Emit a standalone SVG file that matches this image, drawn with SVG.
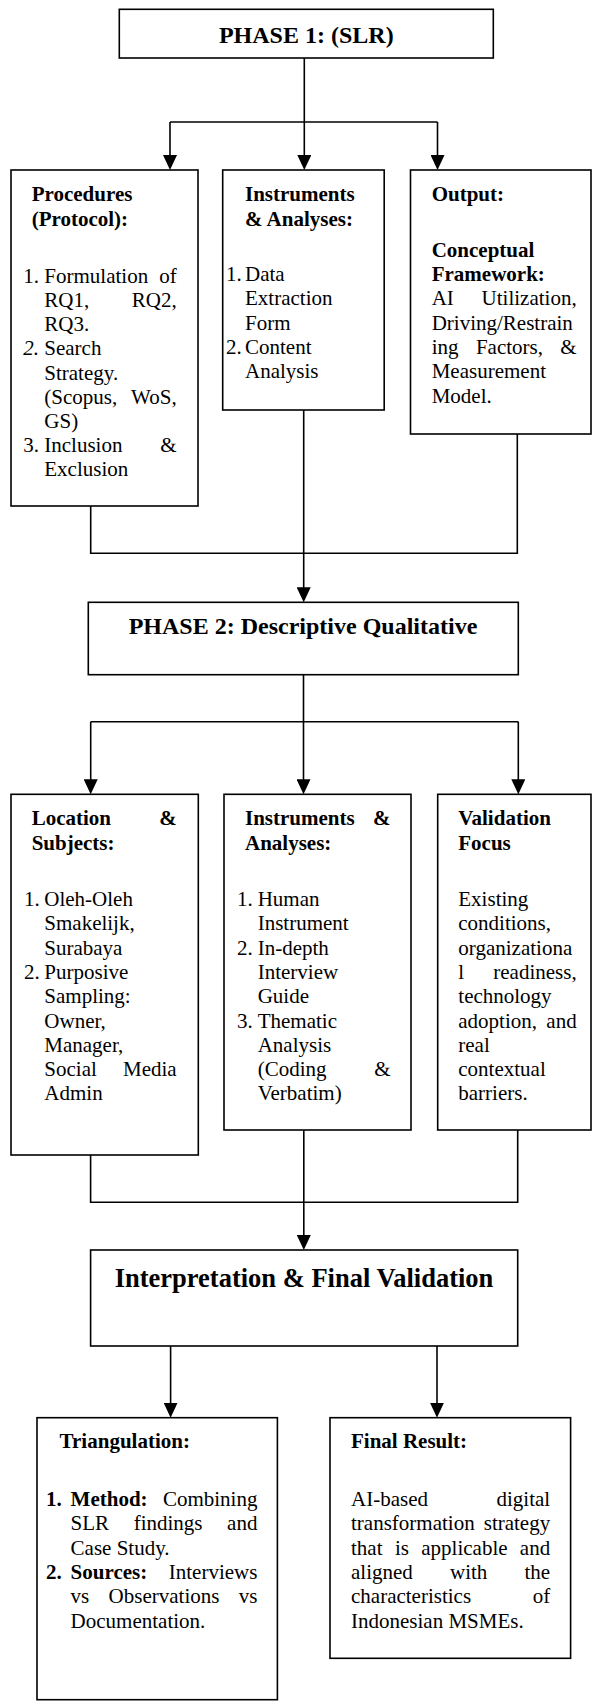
<svg xmlns="http://www.w3.org/2000/svg" width="592" height="1702" viewBox="0 0 592 1702">
<style>
.t{font-family:"Liberation Serif","Times New Roman",serif;font-size:21px;fill:#000}
.b{font-weight:bold}
.i{font-style:italic}
.e{text-anchor:end}
.m{text-anchor:middle}
.h1{font-size:24px}
.h2{font-size:26.5px}
.box{fill:#fff;stroke:#000;stroke-width:1.6}
.ln{fill:none;stroke:#000;stroke-width:1.6}
</style>
<defs>
<marker id="ah" markerUnits="userSpaceOnUse" markerWidth="15" markerHeight="14" viewBox="0 0 15 14" refX="7" refY="7" orient="auto"><path d="M0,0 L15,7 L0,14 z" fill="#000"/></marker>
</defs>
<rect width="592" height="1702" fill="#fff"/>

<g id="connectors">
<path class="ln" d="M304.3,58 V162" marker-end="url(#ah)"/>
<path class="ln" d="M170,122 H437.5"/>
<path class="ln" d="M170,122 V162" marker-end="url(#ah)"/>
<path class="ln" d="M437.5,122 V162" marker-end="url(#ah)"/>
<path class="ln" d="M90.7,506 V553.3 H517.3 V434"/>
<path class="ln" d="M303.7,410 V594.3" marker-end="url(#ah)"/>
<path class="ln" d="M303.5,674.7 V786.3" marker-end="url(#ah)"/>
<path class="ln" d="M90.7,721.7 H518.3"/>
<path class="ln" d="M90.7,721.7 V786.3" marker-end="url(#ah)"/>
<path class="ln" d="M518.3,721.7 V786.3" marker-end="url(#ah)"/>
<path class="ln" d="M90.6,1155 V1202.3 H517.7 V1130"/>
<path class="ln" d="M303.8,1130 V1242" marker-end="url(#ah)"/>
<path class="ln" d="M170.6,1346 V1409.7" marker-end="url(#ah)"/>
<path class="ln" d="M437,1346 V1409.7" marker-end="url(#ah)"/>
</g>

<g id="phase1">
<rect class="box" x="119.3" y="9.3" width="374" height="48.7"/>
<text class="t b h1 m" x="306.3" y="42.7">PHASE 1: (SLR)</text>
</g>

<g id="procedures">
<rect class="box" x="11" y="170" width="187" height="336"/>
<text class="t b" x="31.7" y="200.7">Procedures</text>
<text class="t b" x="31.7" y="226">(Protocol):</text>
<text class="t" x="23.3" y="282.7">1.</text>
<text class="t" x="44.3" y="282.7">Formulation</text>
<text class="t e" x="176.7" y="282.7">of</text>
<text class="t" x="44.3" y="306.9">RQ1,</text>
<text class="t e" x="176.7" y="306.9">RQ2,</text>
<text class="t" x="44.3" y="331.1">RQ3.</text>
<text class="t i" x="23.3" y="355.3">2.</text>
<text class="t" x="44.3" y="355.3">Search</text>
<text class="t" x="44.3" y="379.5">Strategy.</text>
<text class="t" x="44.3" y="403.7">(Scopus,</text>
<text class="t e" x="176.7" y="403.7">WoS,</text>
<text class="t" x="44.3" y="427.9">GS)</text>
<text class="t" x="23.3" y="452.1">3.</text>
<text class="t" x="44.3" y="452.1">Inclusion</text>
<text class="t e" x="176.7" y="452.1">&amp;</text>
<text class="t" x="44.3" y="476.3">Exclusion</text>
</g>

<g id="instruments1">
<rect class="box" x="222.7" y="170" width="161.5" height="240"/>
<text class="t b" x="245" y="200.7">Instruments</text>
<text class="t b" x="245" y="225.5">&amp; Analyses:</text>
<text class="t" x="226" y="281">1.</text>
<text class="t" x="245" y="281">Data</text>
<text class="t" x="245" y="305.3">Extraction</text>
<text class="t" x="245" y="329.6">Form</text>
<text class="t" x="226" y="353.9">2.</text>
<text class="t" x="245" y="353.9">Content</text>
<text class="t" x="245" y="378.2">Analysis</text>
</g>

<g id="output">
<rect class="box" x="410.5" y="170" width="180.5" height="264"/>
<text class="t b" x="431.7" y="201">Output:</text>
<text class="t b" x="431.7" y="256.7">Conceptual</text>
<text class="t b" x="431.7" y="281">Framework:</text>
<text class="t" x="431.7" y="305.3">AI</text>
<text class="t e" x="576.7" y="305.3">Utilization,</text>
<text class="t" x="431.7" y="329.6">Driving/Restrain</text>
<text class="t" x="431.7" y="353.9">ing</text>
<text class="t" x="475.9" y="353.9">Factors,</text>
<text class="t e" x="576.7" y="353.9">&amp;</text>
<text class="t" x="431.7" y="378.2">Measurement</text>
<text class="t" x="431.7" y="402.5">Model.</text>
</g>

<g id="phase2">
<rect class="box" x="88.3" y="602.3" width="430" height="72.4"/>
<text class="t b h1 m" x="303" y="634.3">PHASE 2: Descriptive Qualitative</text>
</g>

<g id="location">
<rect class="box" x="11" y="794.3" width="187.3" height="360.7"/>
<text class="t b" x="31.7" y="825">Location</text>
<text class="t b e" x="176.7" y="825">&amp;</text>
<text class="t b" x="31.7" y="850">Subjects:</text>
<text class="t" x="24" y="906">1.</text>
<text class="t" x="44.3" y="906">Oleh-Oleh</text>
<text class="t" x="44.3" y="930.3">Smakelijk,</text>
<text class="t" x="44.3" y="954.6">Surabaya</text>
<text class="t" x="24" y="978.9">2.</text>
<text class="t" x="44.3" y="978.9">Purposive</text>
<text class="t" x="44.3" y="1003.2">Sampling:</text>
<text class="t" x="44.3" y="1027.5">Owner,</text>
<text class="t" x="44.3" y="1051.8">Manager,</text>
<text class="t" x="44.3" y="1076.1">Social</text>
<text class="t e" x="176.7" y="1076.1">Media</text>
<text class="t" x="44.3" y="1100.4">Admin</text>
</g>

<g id="instruments2">
<rect class="box" x="224" y="794.3" width="187" height="335.7"/>
<text class="t b" x="245" y="825">Instruments</text>
<text class="t b e" x="390.5" y="825">&amp;</text>
<text class="t b" x="245" y="850">Analyses:</text>
<text class="t" x="237" y="906">1.</text>
<text class="t" x="257.7" y="906">Human</text>
<text class="t" x="257.7" y="930.3">Instrument</text>
<text class="t" x="237" y="954.6">2.</text>
<text class="t" x="257.7" y="954.6">In-depth</text>
<text class="t" x="257.7" y="978.9">Interview</text>
<text class="t" x="257.7" y="1003.2">Guide</text>
<text class="t" x="237" y="1027.5">3.</text>
<text class="t" x="257.7" y="1027.5">Thematic</text>
<text class="t" x="257.7" y="1051.8">Analysis</text>
<text class="t" x="257.7" y="1076.1">(Coding</text>
<text class="t e" x="390.5" y="1076.1">&amp;</text>
<text class="t" x="257.7" y="1100.4">Verbatim)</text>
</g>

<g id="validation">
<rect class="box" x="437.7" y="794.3" width="153.3" height="335.7"/>
<text class="t b" x="458.3" y="825">Validation</text>
<text class="t b" x="458.3" y="850">Focus</text>
<text class="t" x="458.3" y="906">Existing</text>
<text class="t" x="458.3" y="930.3">conditions,</text>
<text class="t" x="458.3" y="954.6">organizationa</text>
<text class="t" x="458.3" y="978.9">l</text>
<text class="t e" x="576.7" y="978.9">readiness,</text>
<text class="t" x="458.3" y="1003.2">technology</text>
<text class="t" x="458.3" y="1027.5">adoption,</text>
<text class="t e" x="576.7" y="1027.5">and</text>
<text class="t" x="458.3" y="1051.8">real</text>
<text class="t" x="458.3" y="1076.1">contextual</text>
<text class="t" x="458.3" y="1100.4">barriers.</text>
</g>

<g id="interpretation">
<rect class="box" x="90.6" y="1250" width="427.1" height="96"/>
<text class="t b h2 m" x="304" y="1286.7">Interpretation &amp; Final Validation</text>
</g>

<g id="triangulation">
<rect class="box" x="37" y="1417.7" width="240.4" height="282"/>
<text class="t b" x="59.6" y="1448.3">Triangulation:</text>
<text class="t b" x="46" y="1506">1.</text>
<text class="t b" x="70.6" y="1506">Method:</text>
<text class="t e" x="257.4" y="1506">Combining</text>
<text class="t" x="70.6" y="1530.3">SLR</text>
<text class="t" x="133.7" y="1530.3">findings</text>
<text class="t e" x="257.4" y="1530.3">and</text>
<text class="t" x="70.6" y="1554.6">Case Study.</text>
<text class="t b" x="46" y="1578.9">2.</text>
<text class="t b" x="70.6" y="1578.9">Sources:</text>
<text class="t e" x="257.4" y="1578.9">Interviews</text>
<text class="t" x="70.6" y="1603.2">vs</text>
<text class="t" x="108.6" y="1603.2">Observations</text>
<text class="t e" x="257.4" y="1603.2">vs</text>
<text class="t" x="70.6" y="1627.5">Documentation.</text>
</g>

<g id="final-result">
<rect class="box" x="330" y="1417.7" width="240.6" height="240.6"/>
<text class="t b" x="351" y="1448.3">Final Result:</text>
<text class="t" x="351" y="1506">AI-based</text>
<text class="t e" x="550.2" y="1506">digital</text>
<text class="t" x="351" y="1530.3">transformation</text>
<text class="t e" x="550.2" y="1530.3">strategy</text>
<text class="t" x="351" y="1554.6">that</text>
<text class="t" x="394.9" y="1554.6">is</text>
<text class="t" x="421.3" y="1554.6">applicable</text>
<text class="t e" x="550.2" y="1554.6">and</text>
<text class="t" x="351" y="1578.9">aligned</text>
<text class="t" x="450" y="1578.9">with</text>
<text class="t e" x="550.2" y="1578.9">the</text>
<text class="t" x="351" y="1603.2">characteristics</text>
<text class="t e" x="550.2" y="1603.2">of</text>
<text class="t" x="351" y="1627.5">Indonesian MSMEs.</text>
</g>
</svg>
